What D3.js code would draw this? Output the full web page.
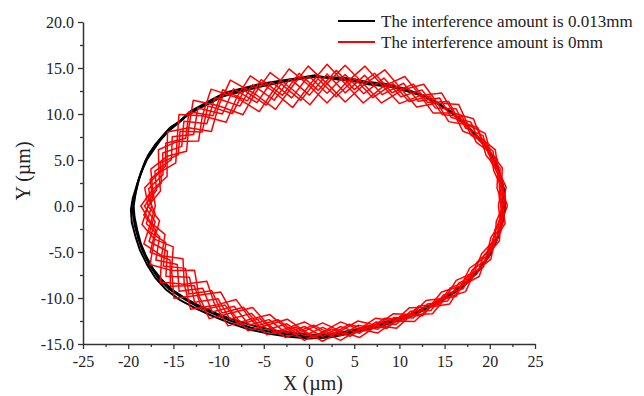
<!DOCTYPE html>
<html><head><meta charset="utf-8">
<script src="https://cdn.jsdelivr.net/npm/d3@7"></script>
<style>body{margin:0;background:#fff}svg{display:block}</style>
</head><body>
<svg id="c" width="644" height="396"></svg>
<script>
const xTicks = [-25,-20,-15,-10,-5,0,5,10,15,20,25];
const yTicks = [-15,-10,-5,0,5,10,15,20];
const seriesNames = ["The interference amount is 0.013mm","The interference amount is 0mm"];
const seriesColors = ["#000000","#ff0000"];

// black orbit (interference 0.013mm), three loops
const black1 = [[21.6,0],[21.5,2],[21.1,3.5],[20.5,5],[19.6,6.4],[18.6,7.6],[17.4,8.8],[16,10],[14.4,11.1],[12.6,12],[10.6,12.6],[8.6,13.1],[6.5,13.3],[4.5,13.7],[2.5,13.9],[0.5,14.1],[-1.5,13.8],[-3.5,13.5],[-5.5,13.2],[-7.5,12.6],[-9.5,12.2],[-10.7,11.5],[-12,10.8],[-13.3,10.1],[-14.4,9.1],[-15.4,8.5],[-16.2,7.6],[-17.1,6.5],[-17.8,5.5],[-18.2,4.6],[-18.7,3.3],[-19.1,1.8],[-19.4,0.5],[-19.5,-0.6],[-19.3,-2],[-18.9,-3.5],[-18.4,-4.9],[-17.6,-6.5],[-16.7,-7.8],[-15.5,-9],[-14,-10],[-12.4,-10.9],[-10.6,-11.7],[-8.6,-12.5],[-6.5,-13.2],[-4.2,-13.7],[-2,-14],[0.2,-14.2],[2.4,-14.1],[4.6,-13.7],[6.8,-13.2],[9,-12.6],[11.2,-11.9],[13.4,-10.9],[15.4,-9.8],[17.2,-8.6],[18.8,-7],[20,-5.3],[20.9,-3.4],[21.4,-1.6],[21.6,0]];
const black2 = [[21.5,0.3],[21.4,2.2],[21.0,3.8],[20.3,5.2],[19.4,6.6],[18.4,7.8],[17.2,9.0],[15.8,10.2],[14.2,11.2],[12.4,12.1],[10.4,12.8],[8.4,13.3],[6.3,13.5],[4.3,13.9],[2.3,14.0],[0.3,14.0],[-1.7,13.7],[-3.7,13.3],[-5.7,12.9],[-7.7,12.4],[-9.6,11.9],[-10.9,11.2],[-12.2,10.6],[-13.5,9.8],[-14.6,8.9],[-15.6,8.1],[-16.4,7.2],[-17.2,6.1],[-17.9,5.1],[-18.4,4.0],[-18.9,2.7],[-19.2,1.3],[-19.4,0.0],[-19.3,-1.2],[-19.0,-2.6],[-18.6,-4.1],[-18.0,-5.5],[-17.2,-6.9],[-16.2,-8.1],[-15.0,-9.2],[-13.6,-10.1],[-12.0,-10.9],[-10.2,-11.7],[-8.2,-12.4],[-6.2,-13.0],[-4.0,-13.5],[-1.8,-13.8],[0.4,-14.0],[2.6,-13.9],[4.8,-13.5],[7.0,-13.0],[9.2,-12.4],[11.4,-11.7],[13.6,-10.7],[15.6,-9.6],[17.4,-8.3],[18.9,-6.8],[20.1,-5.0],[21.0,-3.1],[21.4,-1.3],[21.5,0.3]];
const black3 = [[21.7,-0.3],[21.6,1.6],[21.2,3.2],[20.6,4.8],[19.7,6.2],[18.7,7.4],[17.5,8.6],[16.2,9.8],[14.6,10.9],[12.8,11.9],[10.8,12.5],[8.8,13.0],[6.7,13.2],[4.7,13.6],[2.7,13.8],[0.7,14.2],[-1.3,13.9],[-3.3,13.6],[-5.3,13.3],[-7.3,12.8],[-9.3,12.3],[-10.5,11.7],[-11.8,11.0],[-13.1,10.3],[-14.2,9.3],[-15.2,8.6],[-16.0,7.8],[-16.9,6.8],[-17.6,5.8],[-18.1,4.9],[-18.6,3.6],[-19.1,2.1],[-19.5,0.8],[-19.7,-0.4],[-19.6,-1.8],[-19.2,-3.3],[-18.7,-4.8],[-17.9,-6.4],[-17.0,-7.8],[-15.8,-9.1],[-14.3,-10.2],[-12.6,-11.1],[-10.8,-11.9],[-8.8,-12.7],[-6.7,-13.4],[-4.4,-13.9],[-2.2,-14.2],[0.0,-14.4],[2.2,-14.3],[4.4,-13.9],[6.6,-13.4],[8.8,-12.8],[11.0,-12.1],[13.2,-11.1],[15.2,-10.0],[17.0,-8.8],[18.6,-7.2],[19.9,-5.5],[20.8,-3.6],[21.4,-1.8],[21.7,-0.3]];

// red orbit (interference 0mm), eight loops
const redA = [[21.45,0],[20.8,1.95],[20.9,4],[19.59,5.5],[19,7.4],[17.02,8.13],[16,10.1],[13.72,10.12],[12.3,12],[10,11.13],[8.2,13],[6,11.2],[4,13.3],[2,11.2],[0,13.1],[-1.8,10.7],[-4,12.5],[-5.5,10.26],[-8,11.8],[-9.16,9.1],[-11.8,9.8],[-12.22,7.06],[-14.6,7],[-14.74,4.68],[-16.6,3.6],[-16.43,1.62],[-17.8,0],[-16.53,-1.6],[-17.1,-3.6],[-15.02,-4.44],[-15.2,-7],[-12.66,-6.98],[-12.2,-9.7],[-9.76,-9.36],[-8.5,-11.6],[-6.24,-11.03],[-4.5,-12.9],[-2.4,-12.3],[-0.5,-13.6],[1.5,-12.7],[3.5,-13.6],[5.41,-12.5],[7.5,-13],[9.3,-11.72],[11.4,-11.8],[12.94,-10.28],[15.1,-10],[16.28,-8.09],[18.3,-7.2],[19.09,-5.2],[20.6,-3.6],[20.71,-1.7],[21.45,0]];
const redB = [[21.45,0],[21.8,2.05],[20.9,4],[20.61,6.1],[19,7.4],[18.19,9.48],[16,10.1],[14.68,12.28],[12.3,12],[10.6,14.07],[8.2,13],[6.2,15.2],[4,13.3],[2,15.4],[0,13.1],[-2.2,14.9],[-4,12.5],[-6.5,14.14],[-8,11.8],[-10.84,12.7],[-11.8,9.8],[-14.38,9.94],[-14.6,7],[-16.66,6.12],[-16.6,3.6],[-18.17,1.98],[-17.8,0],[-18.47,-2.0],[-17.1,-3.6],[-17.58,-6.36],[-15.2,-7],[-14.94,-10.02],[-12.2,-9.7],[-11.04,-12.24],[-8.5,-11.6],[-6.76,-13.57],[-4.5,-12.9],[-2.6,-14.3],[-0.5,-13.6],[1.5,-14.7],[3.5,-13.6],[5.59,-14.3],[7.5,-13],[9.7,-13.28],[11.4,-11.8],[13.66,-11.72],[15.1,-10],[17.32,-9.31],[18.3,-7.2],[20.11,-5.8],[20.6,-3.6],[21.69,-1.9],[21.45,0]];
const redC = [[21.7,0],[21.05,1.98],[21.14,4.08],[19.85,5.65],[19.25,7.65],[17.31,8.46],[16.28,10.57],[13.96,10.66],[12.5,12.62],[10.15,11.87],[8.29,13.9],[6.05,12.2],[4,14.3],[2,12.25],[-0.05,14.15],[-1.9,11.75],[-4.15,13.5],[-5.75,11.23],[-8.35,12.74],[-9.58,10.0],[-12.3,10.65],[-12.76,7.78],[-15.13,7.53],[-15.22,5.04],[-17.05,3.8],[-16.87,1.71],[-18.2,0],[-17.02,-1.7],[-17.69,-3.86],[-15.66,-4.92],[-15.83,-7.63],[-13.23,-7.74],[-12.65,-10.47],[-10.08,-10.08],[-8.73,-12.32],[-6.37,-11.67],[-4.59,-13.45],[-2.45,-12.8],[-0.5,-14.1],[1.5,-13.2],[3.5,-14.1],[5.46,-12.95],[7.56,-13.4],[9.4,-12.11],[11.54,-12.18],[13.12,-10.64],[15.32,-10.33],[16.54,-8.4],[18.56,-7.43],[19.35,-5.35],[20.84,-3.69],[20.96,-1.75],[21.7,0]];
const redD = [[21.2,0],[21.55,2.03],[20.66,3.93],[20.36,5.95],[18.76,7.16],[17.89,9.14],[15.73,9.63],[14.44,11.74],[12.1,11.38],[10.45,13.34],[8.11,12.1],[6.15,14.2],[4,12.3],[2,14.35],[0.05,12.05],[-2.1,13.85],[-3.85,11.5],[-6.25,13.17],[-7.65,10.86],[-10.42,11.8],[-11.3,8.95],[-13.84,9.22],[-14.08,6.48],[-16.18,5.76],[-16.15,3.4],[-17.74,1.89],[-17.4,0],[-17.99,-1.9],[-16.52,-3.34],[-16.94,-5.88],[-14.57,-6.37],[-14.37,-9.26],[-11.75,-8.94],[-10.72,-11.52],[-8.28,-10.89],[-6.63,-12.94],[-4.42,-12.35],[-2.55,-13.8],[-0.5,-13.1],[1.5,-14.2],[3.5,-13.1],[5.55,-13.85],[7.44,-12.6],[9.6,-12.89],[11.26,-11.43],[13.48,-11.36],[14.88,-9.67],[17.06,-9.0],[18.04,-6.97],[19.86,-5.65],[20.37,-3.51],[21.45,-1.85],[21.2,0]];
const redE = [[21.95,0],[21.3,2],[21.38,4.15],[20.1,5.8],[19.49,7.89],[17.6,8.8],[16.55,11.04],[14.2,11.2],[12.69,13.24],[10.3,12.6],[8.38,14.8],[6.1,13.2],[4,15.3],[2,13.3],[-0.1,15.2],[-2,12.8],[-4.3,14.5],[-6,12.2],[-8.7,13.68],[-10,10.9],[-12.8,11.5],[-13.3,8.5],[-15.65,8.05],[-15.7,5.4],[-17.5,4.0],[-17.3,1.8],[-18.6,0],[-17.5,-1.8],[-18.27,-4.12],[-16.3,-5.4],[-16.46,-8.26],[-13.8,-8.5],[-13.1,-11.23],[-10.4,-10.8],[-8.95,-13.03],[-6.5,-12.3],[-4.67,-14.0],[-2.5,-13.3],[-0.5,-14.6],[1.5,-13.7],[3.5,-14.6],[5.5,-13.4],[7.62,-13.8],[9.5,-12.5],[11.68,-12.55],[13.3,-11],[15.54,-10.66],[16.8,-8.7],[18.82,-7.66],[19.6,-5.5],[21.07,-3.78],[21.2,-1.8],[21.95,0]];
const redF = [[20.95,0],[21.3,2],[20.43,3.85],[20.1,5.8],[18.51,6.91],[17.6,8.8],[15.45,9.17],[14.2,11.2],[11.91,10.77],[10.3,12.6],[8.02,11.2],[6.1,13.2],[4,11.3],[2,13.3],[0.1,11.0],[-2,12.8],[-3.7,10.5],[-6,12.2],[-7.3,9.92],[-10,10.9],[-10.8,8.1],[-13.3,8.5],[-13.55,5.95],[-15.7,5.4],[-15.7,3.2],[-17.3,1.8],[-17.0,0],[-17.5,-1.8],[-15.93,-3.08],[-16.3,-5.4],[-13.94,-5.74],[-13.8,-8.5],[-11.3,-8.17],[-10.4,-10.8],[-8.05,-10.17],[-6.5,-12.3],[-4.33,-11.8],[-2.5,-13.3],[-0.5,-12.6],[1.5,-13.7],[3.5,-12.6],[5.5,-13.4],[7.38,-12.2],[9.5,-12.5],[11.12,-11.05],[13.3,-11],[14.66,-9.34],[16.8,-8.7],[17.78,-6.74],[19.6,-5.5],[20.13,-3.42],[21.2,-1.8],[20.95,0]];
const redG = [[21.73,1.02],[20.95,2.97],[20.84,5.06],[19.4,6.48],[18.68,8.51],[16.63,9.21],[15.46,11.36],[13.12,11.25],[11.55,13.25],[9.18,12.31],[7.25,14.43],[5.03,12.65],[3.0,14.74],[1.02,12.57],[-1.1,14.42],[-2.92,12.03],[-5.28,13.73],[-6.82,11.43],[-9.54,12.64],[-10.62,9.82],[-13.28,10.25],[-13.63,7.37],[-15.85,6.82],[-15.87,4.33],[-17.57,2.9],[-17.3,0.87],[-18.27,-0.97],[-16.98,-2.59],[-17.56,-5.02],[-15.37,-5.87],[-15.34,-8.72],[-12.69,-8.64],[-11.84,-11.29],[-9.28,-10.77],[-7.75,-12.9],[-5.43,-12.24],[-3.6,-13.84],[-1.48,-13.15],[0.5,-14.35],[2.5,-13.35],[4.54,-14.17],[6.47,-12.95],[8.61,-13.3],[10.38,-11.92],[12.57,-11.92],[14.08,-10.29],[16.29,-9.8],[17.39,-7.79],[19.31,-6.62],[19.95,-4.48],[21.24,-2.8],[21.18,-0.89],[21.73,1.02]];
const redH = [[21.03,0.98],[21.25,3.03],[20.16,4.74],[19.7,6.72],[17.92,7.69],[16.97,9.69],[14.74,9.94],[13.38,11.95],[11.06,11.36],[9.32,13.29],[7.05,11.77],[5.07,13.85],[3.0,11.87],[0.99,13.83],[-0.9,11.48],[-3.08,13.27],[-4.72,10.97],[-7.18,12.57],[-8.46,10.06],[-11.18,10.88],[-11.82,8.05],[-14.27,8.13],[-14.45,5.58],[-16.43,4.67],[-16.33,2.5],[-17.8,0.93],[-17.03,-0.83],[-17.62,-2.81],[-15.84,-3.98],[-16.13,-6.53],[-13.66,-6.78],[-13.31,-9.56],[-10.76,-9.21],[-9.62,-11.63],[-7.25,-11.01],[-5.57,-12.96],[-3.4,-12.37],[-1.52,-13.75],[0.5,-12.95],[2.5,-13.95],[4.47,-12.84],[6.53,-13.46],[8.39,-12.2],[10.52,-12.38],[12.13,-10.88],[14.32,-10.71],[15.61,-8.9],[17.71,-8.11],[18.59,-6.08],[20.25,-4.62],[20.56,-2.6],[21.48,-0.92],[21.03,0.98]];

const svg = d3.select("#c");
const m = {left:83, top:22, right:109, bottom:52};
const W = 644, H = 396;
const x = d3.scaleLinear().domain([-25,25]).range([m.left, W - m.right]);
const y = d3.scaleLinear().domain([-15,20]).range([H - m.bottom, m.top]);
const serif = "'Liberation Serif','Times New Roman',serif";

const line = d3.line().x(d => x(d[0])).y(d => y(d[1]));
const gData = svg.append("g");
[black1, black2, black3].forEach(loop => {
  gData.append("path").attr("d", line(loop)).attr("fill","none")
    .attr("stroke", seriesColors[0]).attr("stroke-width", 2).attr("stroke-linejoin","round");
});
[redA, redB, redC, redD, redE, redF, redG, redH].forEach(loop => {
  gData.append("path").attr("d", line(loop)).attr("fill","none")
    .attr("stroke", seriesColors[1]).attr("stroke-width", 1.5).attr("stroke-linejoin","round");
});

// axes
const axisColor = "#333";
const xMinor = d3.range(-22.5, 25, 5);
const yMinor = d3.range(-12.5, 20, 5);
const gx = svg.append("g").attr("transform", `translate(0,${y(-15)})`);
gx.call(d3.axisBottom(x).tickValues(xTicks).tickSize(5).tickSizeOuter(0).tickFormat(d => String(d)));
gx.append("g").attr("class","minor").call(d3.axisBottom(x).tickValues(xMinor).tickSize(3).tickFormat(""));
const gy = svg.append("g").attr("transform", `translate(${x(-25)},0)`);
gy.call(d3.axisLeft(y).tickValues(yTicks).tickSize(5).tickSizeOuter(0).tickFormat(d => d.toFixed(1)));
gy.append("g").attr("class","minor").call(d3.axisLeft(y).tickValues(yMinor).tickSize(3).tickFormat(""));
svg.selectAll(".minor .domain").remove();
svg.selectAll(".domain").attr("stroke", axisColor).attr("stroke-width", 1.5);
svg.selectAll(".tick line").attr("stroke", axisColor).attr("stroke-width", 1.3);
svg.selectAll(".tick text").attr("font-family", serif).attr("font-size", 16).attr("fill", "#222");
gx.selectAll(".tick text").attr("dy", null).attr("y", 23);
gy.selectAll(".tick text").attr("x", -9);

// axis titles
svg.append("text").attr("x", 313).attr("y", 390).attr("text-anchor","middle")
  .attr("font-family", serif).attr("font-size", 20).attr("fill","#222").text("X (\u00b5m)");
svg.append("text").attr("transform", "translate(30,171) rotate(-90)").attr("text-anchor","middle")
  .attr("font-family", serif).attr("font-size", 20).attr("fill","#222").text("Y (\u00b5m)");

// legend
const lg = svg.append("g");
seriesNames.forEach((name, i) => {
  const yy = 21 + i * 21;
  lg.append("line").attr("x1", 338).attr("x2", 375).attr("y1", yy).attr("y2", yy)
    .attr("stroke", seriesColors[i]).attr("stroke-width", 2);
  lg.append("text").attr("x", 381).attr("y", yy + 5.5).attr("font-family", serif)
    .attr("font-size", 17).attr("fill", "#222").text(name);
});
</script>
</body></html>
